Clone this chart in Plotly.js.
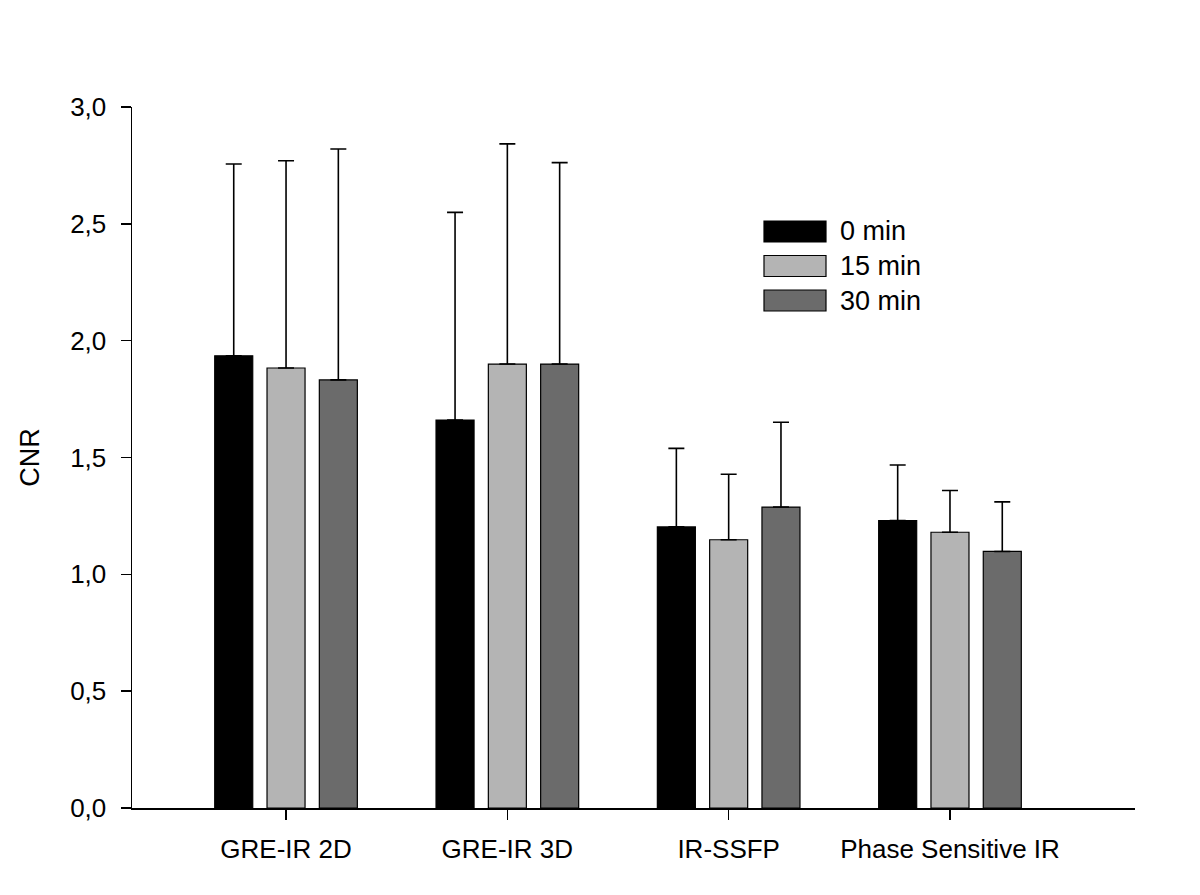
<!DOCTYPE html>
<html>
<head>
<meta charset="utf-8">
<script src="https://cdn.plot.ly/plotly-3.0.1.min.js"></script>
<style>html,body{margin:0;padding:0;background:#fff;}#chart{width:1200px;height:895px;}</style>
</head>
<body>
<div id="chart"></div>
<script>
// ---- data ----
const categories = ["GRE-IR 2D", "GRE-IR 3D", "IR-SSFP", "Phase Sensitive IR"];
const seriesNames = ["0 min", "15 min", "30 min"];
const mean0  = [1.935, 1.660, 1.203, 1.230];
const mean15 = [1.883, 1.900, 1.148, 1.180];
const mean30 = [1.832, 1.900, 1.288, 1.098];
const upper0  = [2.756, 2.549, 1.539, 1.468];
const upper15 = [2.770, 2.842, 1.428, 1.359];
const upper30 = [2.820, 2.762, 1.651, 1.310];
const yTickVals = [0, 0.5, 1.0, 1.5, 2.0, 2.5, 3.0];
const yTickText = ["0,0", "0,5", "1,0", "1,5", "2,0", "2,5", "3,0"];

// ---- style ----
const colors = ["#000000", "#b4b4b4", "#6b6b6b"];
const means = [mean0, mean15, mean30];
const uppers = [upper0, upper15, upper30];
const FONT = "Liberation Sans, Arial, sans-serif";

const traces = means.map((m, i) => ({
  type: "bar",
  name: seriesNames[i],
  x: categories,
  y: m,
  marker: { color: colors[i], line: { color: "#000", width: 1.2 } },
  error_y: {
    type: "data",
    symmetric: false,
    array: uppers[i].map((u, k) => u - m[k]),
    arrayminus: m.map(() => 0),
    color: "#000",
    thickness: 1.6,
    width: 8
  },
  showlegend: false,
  hoverinfo: "x+y+name"
}));

// plot-area geometry (pixels)
const L = 132, R = 1135, T = 107, B = 808;
const W = R - L, H = B - T;
const px = x => (x - L) / W;
const py = y => (B - y) / H;

// custom legend with large swatches (as in the reference)
const shapes = [];
const annotations = [];
const legX0 = 764, legX1 = 826, legTop = 221, legRow = 34.5, boxH = 21;
seriesNames.forEach((n, i) => {
  const y0 = legTop + i * legRow;
  shapes.push({
    type: "rect", xref: "paper", yref: "paper",
    x0: px(legX0), x1: px(legX1), y0: py(y0 + boxH), y1: py(y0),
    fillcolor: colors[i], line: { color: "#000", width: 1.2 }
  });
  annotations.push({
    xref: "paper", yref: "paper", x: px(838), y: py(y0 + boxH / 2),
    xanchor: "left", yanchor: "middle", showarrow: false,
    text: n, font: { family: FONT, size: 27, color: "#000" }
  });
});

const layout = {
  width: 1200, height: 895,
  margin: { l: L, r: 1200 - R, t: T, b: 895 - B, pad: 0 },
  paper_bgcolor: "#fff", plot_bgcolor: "#fff",
  font: { family: FONT, size: 24, color: "#000" },
  barmode: "group",
  bargap: 0.291,
  bargroupgap: 0.273,
  showlegend: false,
  xaxis: {
    type: "category",
    range: [-0.696, 3.836],
    showline: true, linecolor: "#000", linewidth: 1.5,
    ticks: "outside", ticklen: 10, tickwidth: 1.5, tickcolor: "#000",
    ticklabelstandoff: 7,
    showgrid: false, zeroline: false,
    tickfont: { family: FONT, size: 26, color: "#000" },
    fixedrange: true
  },
  yaxis: {
    range: [0, 3.0],
    tickvals: yTickVals, ticktext: yTickText,
    showline: true, linecolor: "#000", linewidth: 1.5,
    ticks: "outside", ticklen: 10, tickwidth: 1.5, tickcolor: "#000",
    ticklabelstandoff: 9,
    showgrid: false, zeroline: false,
    tickfont: { family: FONT, size: 26, color: "#000" },
    title: { text: "CNR", font: { family: FONT, size: 27, color: "#000" }, standoff: 22 },
    fixedrange: true
  },
  shapes: shapes,
  annotations: annotations
};

Plotly.newPlot("chart", traces, layout, { displayModeBar: false, staticPlot: true });
</script>
</body>
</html>
